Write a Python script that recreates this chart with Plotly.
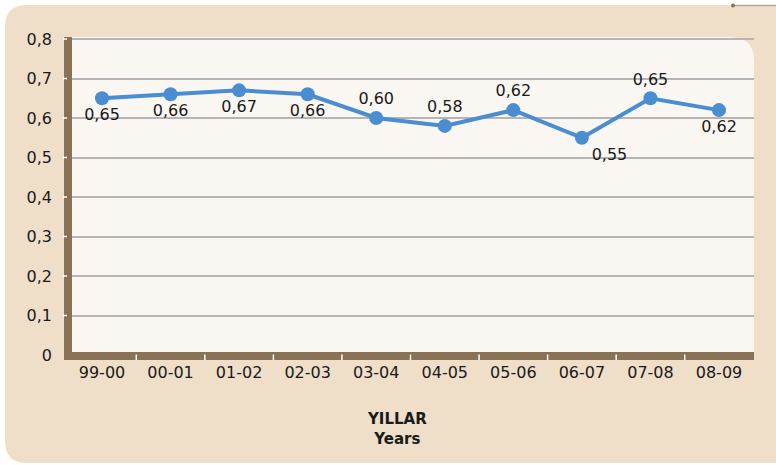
import plotly.graph_objects as go

categories = ["99-00", "00-01", "01-02", "02-03", "03-04", "04-05", "05-06", "06-07", "07-08", "08-09"]
values = [0.65, 0.66, 0.67, 0.66, 0.60, 0.58, 0.62, 0.55, 0.65, 0.62]
value_labels = ["0,65", "0,66", "0,67", "0,66", "0,60", "0,58", "0,62", "0,55", "0,65", "0,62"]
label_positions = ["bottom center", "bottom center", "bottom center", "bottom center",
                   "top center", "top center", "top center", "bottom right",
                   "top center", "bottom center"]
y_tickvals = [0, 0.1, 0.2, 0.3, 0.4, 0.5, 0.6, 0.7, 0.8]
y_ticktext = ["0", "0,1", "0,2", "0,3", "0,4", "0,5", "0,6", "0,7", "0,8"]

W, H = 776, 465
ML, MR, MT, MB = 72, 22, 37, 109
PW = W - ML - MR
PH = H - MT - MB


def xp(px):
    return (px - ML) / PW


def yp(py):
    return (H - MB - py) / PH


def rounded_path(x0, y0, x1, y1, r_tl=0, r_tr=0, r_br=0, r_bl=0):
    pts = []
    pts.append(f"M {xp(x0 + r_tl)},{yp(y0)}")
    pts.append(f"L {xp(x1 - r_tr)},{yp(y0)}")
    if r_tr:
        pts.append(f"Q {xp(x1)},{yp(y0)} {xp(x1)},{yp(y0 + r_tr)}")
    pts.append(f"L {xp(x1)},{yp(y1 - r_br)}")
    if r_br:
        pts.append(f"Q {xp(x1)},{yp(y1)} {xp(x1 - r_br)},{yp(y1)}")
    pts.append(f"L {xp(x0 + r_bl)},{yp(y1)}")
    if r_bl:
        pts.append(f"Q {xp(x0)},{yp(y1)} {xp(x0)},{yp(y1 - r_bl)}")
    pts.append(f"L {xp(x0)},{yp(y0 + r_tl)}")
    if r_tl:
        pts.append(f"Q {xp(x0)},{yp(y0)} {xp(x0 + r_tl)},{yp(y0)}")
    pts.append("Z")
    return " ".join(pts)


BEIGE = "#EFDFC9"
CREAM = "#FAF7F2"
BROWN = "#8A7254"
LINE = "#4A8DD0"
FONT = "DejaVu Sans"

x_idx = list(range(len(categories)))

fig = go.Figure()
fig.add_trace(go.Scatter(
    x=x_idx, y=values, mode="lines+markers+text",
    line=dict(color=LINE, width=4),
    marker=dict(color=LINE, size=14),
    text=value_labels, textposition=label_positions,
    textfont=dict(family=FONT, size=16, color="#1a1a1a"),
    cliponaxis=False, hoverinfo="skip",
))

shapes = []
shapes.append(dict(type="path", xref="paper", yref="paper", layer="below",
                   path=rounded_path(5, 5, 790, 463, r_tl=22, r_bl=22),
                   fillcolor=BEIGE, line=dict(width=0)))
shapes.append(dict(type="path", xref="paper", yref="paper", layer="below",
                   path=rounded_path(72, 37, 754, 356, r_tr=24),
                   fillcolor=CREAM, line=dict(width=0)))
shapes.append(dict(type="rect", xref="paper", yref="paper", layer="above",
                   x0=xp(64), x1=xp(72), y0=yp(360), y1=yp(37),
                   fillcolor=BROWN, line=dict(width=0)))
shapes.append(dict(type="rect", xref="paper", yref="paper", layer="above",
                   x0=xp(64), x1=xp(754), y0=yp(360), y1=yp(352),
                   fillcolor=BROWN, line=dict(width=0)))
for i in range(len(categories) - 1):
    shapes.append(dict(type="line", xref="x", yref="paper", layer="above",
                       x0=i + 0.5, x1=i + 0.5, y0=yp(360), y1=yp(354.5),
                       line=dict(color="white", width=1.5)))
for v in y_tickvals[1:]:
    shapes.append(dict(type="line", xref="paper", yref="y", layer="above",
                       x0=xp(63), x1=xp(67), y0=v, y1=v,
                       line=dict(color="white", width=1.5)))
shapes.append(dict(type="line", xref="paper", yref="paper", layer="above",
                   x0=xp(733), x1=xp(776), y0=yp(5.5), y1=yp(5.5),
                   line=dict(color="#B0A898", width=1.5)))
shapes.append(dict(type="circle", xref="paper", yref="paper", layer="above",
                   x0=xp(731), x1=xp(735), y0=yp(7.5), y1=yp(3.5),
                   fillcolor="#8A7254", line=dict(width=0)))

fig.update_layout(
    width=W, height=H,
    margin=dict(l=ML, r=MR, t=MT, b=MB, pad=0),
    paper_bgcolor="white",
    plot_bgcolor="rgba(0,0,0,0)",
    showlegend=False,
    shapes=shapes,
    font=dict(family=FONT, size=16, color="#1a1a1a"),
    xaxis=dict(
        range=[-0.4376, 9.5105],
        tickmode="array", tickvals=x_idx, ticktext=categories,
        showgrid=False, zeroline=False, showline=False, ticks="",
        ticklabelstandoff=5,
        tickfont=dict(family=FONT, size=16, color="#1a1a1a"),
        fixedrange=True,
    ),
    yaxis=dict(
        range=[-0.00253, 0.80506],
        tickmode="array", tickvals=y_tickvals, ticktext=y_ticktext,
        showgrid=True, gridcolor="#B5B5B5", gridwidth=1.5,
        zeroline=False, showline=False, ticks="",
        ticklabelstandoff=19,
        tickfont=dict(family=FONT, size=16, color="#1a1a1a"),
        fixedrange=True,
    ),
    annotations=[dict(
        xref="paper", yref="paper", x=xp(397), y=yp(429),
        xanchor="center", yanchor="middle", showarrow=False,
        text="<b>YILLAR</b><br><b>Years</b>",
        font=dict(family=FONT, size=15, color="#1a1a1a"),
    )],
)

fig.write_html("out.html", config={"displayModeBar": False},
               post_script="document.body.style.margin='0px';")
